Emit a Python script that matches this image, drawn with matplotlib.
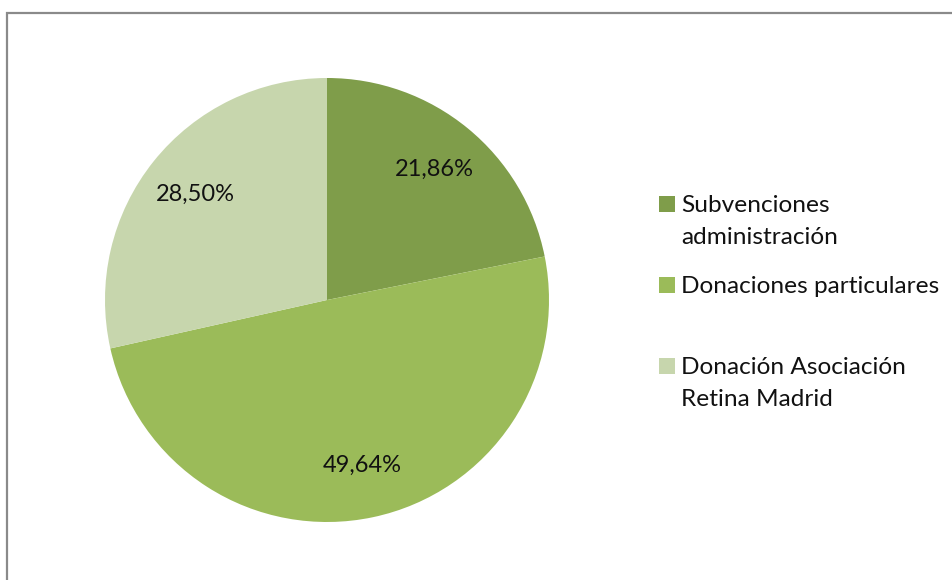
import matplotlib
matplotlib.use("Agg")
import matplotlib.pyplot as plt
from matplotlib.patches import Rectangle

# data
labels = ["Subvenciones\nadministración", "Donaciones particulares",
          "Donación Asociación\nRetina Madrid"]
values = [21.86, 49.64, 28.50]
colors = ["#7F9D4A", "#9BBB59", "#C7D6AD"]

plt.rcParams['font.family'] = ['Lato', 'DejaVu Sans']

fig = plt.figure(figsize=(9.53, 5.8), dpi=100)

# outer chart frame (runs off the right and bottom of the image)
fig.patches.append(Rectangle((7.5 / 953, -0.1), 1.2, 1 - 12.5 / 580 + 0.1,
                             transform=fig.transFigure, fill=False,
                             edgecolor="#8A8A8A", linewidth=1.6))

# pie axes: centre (327,300) px, radius 222 px
cx, cy, r = 327 / 953, 1 - 300 / 580, 222
ax = fig.add_axes([cx - r / 953, cy - r / 580, 2 * r / 953, 2 * r / 580])
ax.pie(values, colors=colors, startangle=90, counterclock=False,
       autopct=lambda p: ("%.2f%%" % p).replace(".", ","), pctdistance=0.76,
       textprops=dict(fontsize=17, color="#111111"),
       wedgeprops=dict(linewidth=0))
ax.set_xlim(-1, 1)
ax.set_ylim(-1, 1)
ax.set_aspect("auto")
ax.axis("off")

# legend drawn by hand to keep Excel's uneven spacing
# baseline (px from top) of the first line of each entry
legend_base = [212, 293, 374]
line_step = 32
for lab, col, base in zip(labels, colors, legend_base):
    fig.patches.append(Rectangle((659 / 953, 1 - base / 580), 16 / 953, 16 / 580,
                                 transform=fig.transFigure, facecolor=col,
                                 edgecolor="none"))
    for i, line in enumerate(lab.split("\n")):
        fig.text(681 / 953, 1 - (base + i * line_step) / 580, line,
                 fontsize=17.6, va="baseline", ha="left", color="#111111")

fig.savefig("out.png", dpi=100)
